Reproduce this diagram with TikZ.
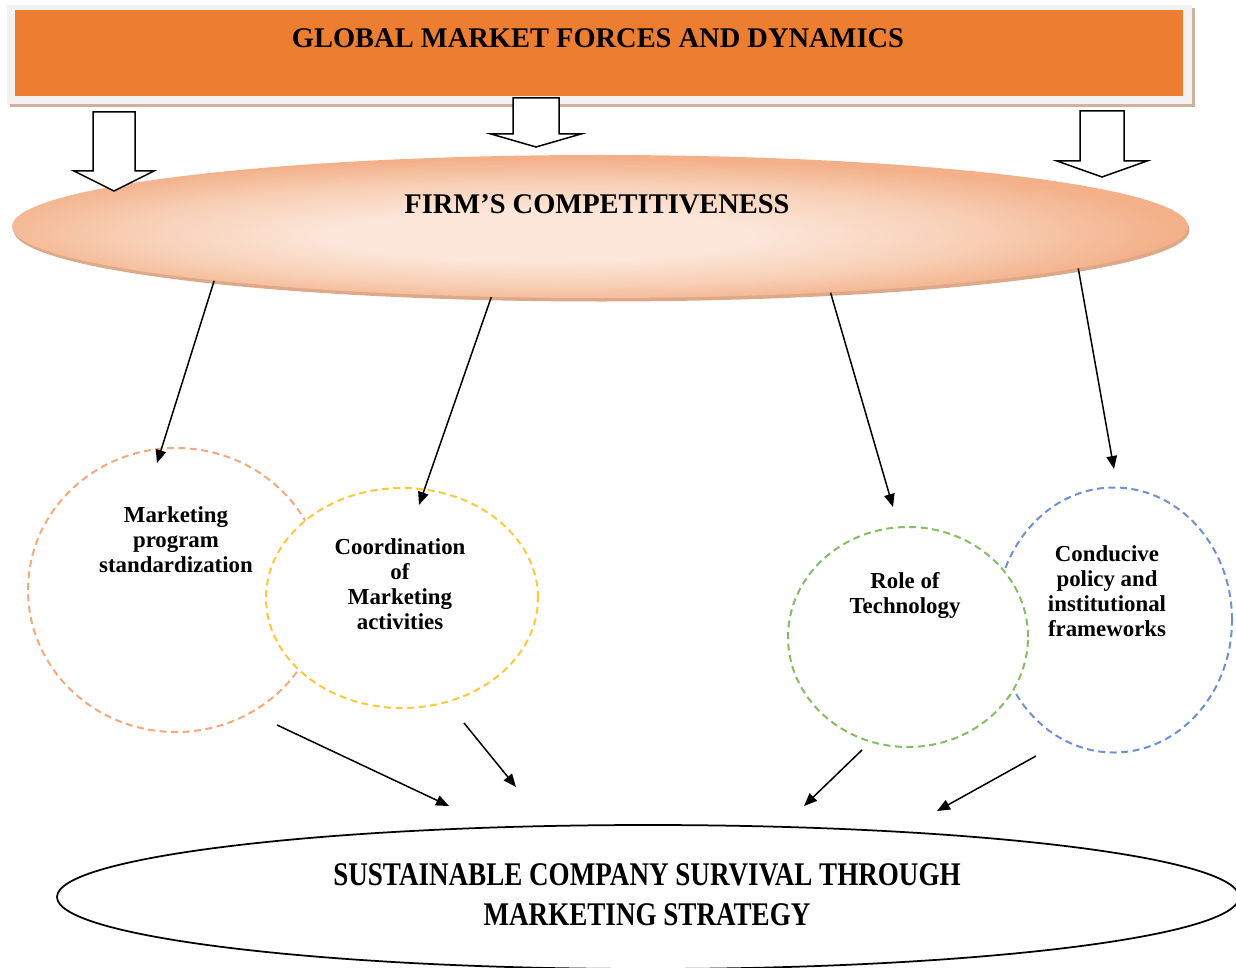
\documentclass[tikz,border=0pt]{standalone}
\usepackage{fontspec}
\setmainfont{Liberation Serif}
\newfontfamily\narrowserif[FakeStretch=0.82]{Liberation Serif}
\usetikzlibrary{shapes.geometric, arrows.meta, shadows}

\definecolor{bannerorange}{HTML}{ED7D31}
\definecolor{framegrey}{HTML}{F2F2F2}
\definecolor{frameshadow}{HTML}{C9A893}
\definecolor{firmlight}{HTML}{FCE6D9}
\definecolor{firmmid}{HTML}{F8CFB5}
\definecolor{firmdark}{HTML}{F3B089}
\definecolor{firmshadow}{HTML}{D4946C}
\definecolor{ringorange}{HTML}{F4A97C}
\definecolor{ringyellow}{HTML}{FFC839}
\definecolor{ringgreen}{HTML}{86BC62}
\definecolor{ringblue}{HTML}{6C91D6}

% soft glow, a little below and left of the middle
\pgfdeclareradialshading{firmglow}{\pgfpoint{-3bp}{-4bp}}{%
	color(0bp)=(firmlight); color(9bp)=(firmlight); color(18bp)=(firmmid);
	color(26bp)=(firmdark); color(50bp)=(firmdark)}

\tikzset{
	ring/.style={ellipse, draw, line width=0.4mm, dash pattern=on 1.4mm off 0.9mm, fill=white, inner sep=0pt},
	ringtext/.style={align=center, font=\fontsize{13}{14.2}\selectfont\bfseries},
	headline/.style={font=\fontsize{16.2}{19}\selectfont\bfseries},
	link/.style={-{Triangle[length=2.6mm, width=2.1mm]}, line width=0.3mm},
	blockarrow/.style={draw, line width=0.3mm, fill=white, line join=miter},
}

% hollow downward arrow: x, shaft half width, head half width, top, head base, tip
\newcommand{\downblock}[6]{%
	\draw[blockarrow] (#1-#2, #4) -- (#1+#2, #4) -- (#1+#2, #5) -- (#1+#3, #5)
		-- (#1, #6) -- (#1-#3, #5) -- (#1-#2, #5) -- cycle;
}

\begin{document}
\begin{tikzpicture}[x=0.2mm, y=-0.2mm]
	\clip (0, 0) rectangle (1236, 967);

	%% banner
	\node[rectangle, fill=framegrey, minimum width=237mm, minimum height=19.8mm, inner sep=0pt,
		drop shadow={shadow xshift=0.6mm, shadow yshift=-0.6mm, fill=frameshadow, opacity=0.9}]
		(frame) at (599.5, 54.5) {};
	\node[rectangle, fill=bannerorange, minimum width=233.6mm, minimum height=17.2mm, inner sep=0pt]
		(banner) at (599, 53) {};
	\node[headline] (global) at (598, 38) {GLOBAL MARKET FORCES AND DYNAMICS};

	%% competitiveness ellipse
	\node[ellipse, minimum width=235.2mm, minimum height=28.6mm, inner sep=0pt,
		shading=firmglow,
		drop shadow={shadow xshift=0.3mm, shadow yshift=-0.7mm, fill=firmshadow, opacity=0.8}]
		(firm) at (600, 226.5) {};
	\node[headline] (firmtxt) at (597, 204) {FIRM’S COMPETITIVENESS};

	%% block arrows
	\downblock{114}{21}{40}{112}{171}{191}
	\downblock{536}{23}{45}{98}{134}{147}
	\downblock{1102}{22}{45}{111}{161}{177}

	%% rings, back to front
	\node[ring, draw=ringorange, minimum width=59.2mm, minimum height=56.8mm] (mps) at (176, 590) {};
	\node[ring, draw=ringyellow, minimum width=54.4mm, minimum height=44mm] (coord) at (402, 598) {};
	\node[ring, draw=ringblue, minimum width=47.2mm, minimum height=53mm] (policy) at (1114, 620) {};
	\node[ring, draw=ringgreen, minimum width=48mm, minimum height=44mm] (tech) at (908, 637) {};

	\node[ringtext] (mpstxt) at (176, 540) {Marketing\\program\\standardization};
	\node[ringtext] (coordtxt) at (400, 584) {Coordination\\of\\Marketing\\activities};
	\node[ringtext] (techtxt) at (905, 595) {Role of\\Technology};
	\node[ringtext] (policytxt) at (1107, 591) {Conducive\\policy and\\institutional\\frameworks};

	%% survival ellipse
	\node[ellipse, draw, line width=0.35mm, minimum width=236.4mm, minimum height=28.8mm, inner sep=0pt]
		(sust) at (648, 897) {};
	\node[align=center, font=\narrowserif\bfseries\fontsize{18.8}{22.7}\selectfont] (susttxt) at (647, 895)
		{SUSTAINABLE COMPANY SURVIVAL THROUGH\\MARKETING STRATEGY};

	%% arrow ends
	\coordinate (t1) at (157, 463);
	\coordinate (t2) at (419, 505);
	\coordinate (t3) at (893, 507);
	\coordinate (t4) at (1114, 469);

	\coordinate (s5) at (277, 725);
	\coordinate (s6) at (464, 723);
	\coordinate (s7) at (862, 750);
	\coordinate (s8) at (1036, 756);
	\coordinate (t5) at (449, 806);
	\coordinate (t6) at (516, 787);
	\coordinate (t7) at (804, 806);
	\coordinate (t8) at (937, 811);

	%% competitiveness to factors
	\draw[link] (firm.188) -- (t1);
	\draw[link] (firm.213) -- (t2);
	\draw[link] (firm.-16) -- (t3);
	\draw[link] (firm.-5) -- (t4);

	%% factors to survival
	\draw[link] (s5) -- (t5);
	\draw[link] (s6) -- (t6);
	\draw[link] (s7) -- (t7);
	\draw[link] (s8) -- (t8);
\end{tikzpicture}
\end{document}
